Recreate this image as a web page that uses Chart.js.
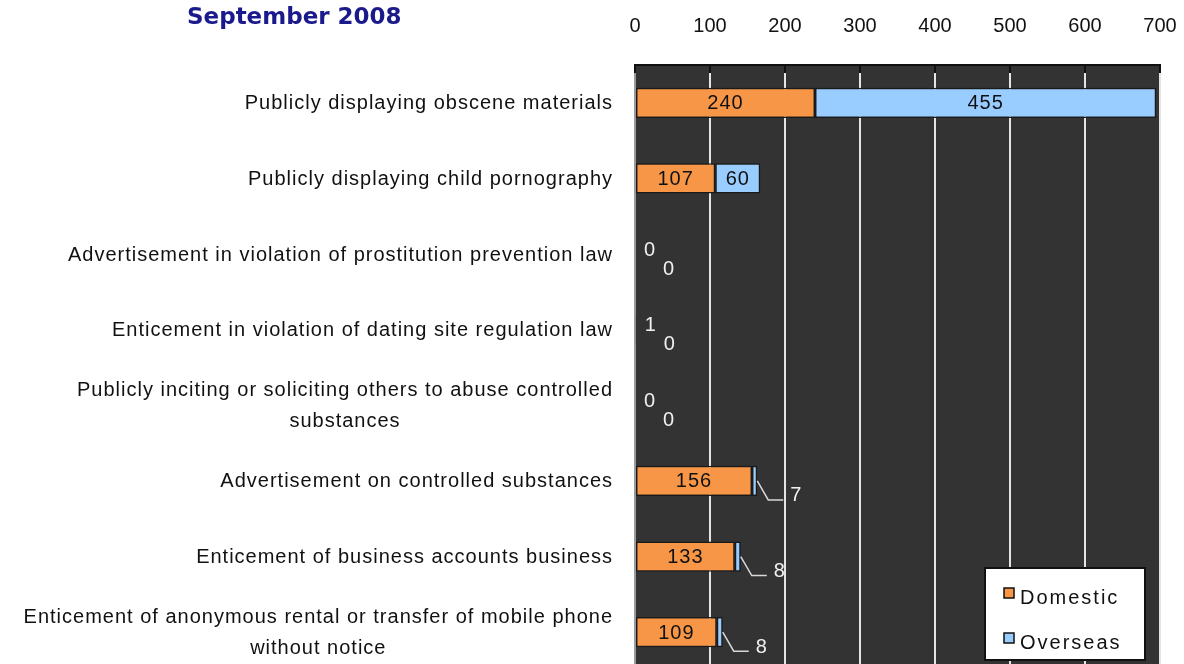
<!DOCTYPE html>
<html>
<head>
<meta charset="utf-8">
<script src="https://cdn.jsdelivr.net/npm/chart.js@4.4.0/dist/chart.umd.min.js"></script>
<style>
  html, body { margin: 0; padding: 0; background: #fff; overflow: hidden; }
  #wrap { position: relative; width: 1184px; height: 672px; }
  #title {
    position: absolute; left: 187px; top: 3px;
    font: bold 23px "DejaVu Sans", sans-serif; line-height: 26px;
    color: #1a1a8c;
  }
</style>
</head>
<body>
<div id="wrap">
  <div id="title">September 2008</div>
  <canvas id="myChart" width="1184" height="672"></canvas>
</div>
<script>
// categories, top to bottom
const categories = [
  "Publicly displaying obscene materials",
  "Publicly displaying child pornography",
  "Advertisement in violation of prostitution prevention law",
  "Enticement in violation of dating site regulation law",
  ["Publicly inciting or soliciting others to abuse controlled", "substances"],
  "Advertisement on controlled substances",
  "Enticement of business accounts business",
  ["Enticement of anonymous rental or transfer of mobile phone", "without notice"]
];
const domestic = [240, 107, 0, 1, 0, 156, 133, 109];
const overseas = [455, 60, 0, 0, 0, 7, 8, 8];
const xTicks = [0, 100, 200, 300, 400, 500, 600, 700];

const FONT = '"Liberation Sans", Arial, sans-serif';

// dark plot background
const plotBg = {
  id: 'plotBg',
  beforeDraw(chart) {
    const a = chart.chartArea;
    const ctx = chart.ctx;
    ctx.save();
    ctx.fillStyle = '#333333';
    ctx.fillRect(a.left, a.top, a.right - a.left, a.bottom - a.top);
    ctx.restore();
  }
};

// short dark tick marks hanging from the top border
const topTicks = {
  id: 'topTicks',
  beforeDatasetsDraw(chart) {
    const a = chart.chartArea;
    const x = chart.scales.x;
    const ctx = chart.ctx;
    ctx.save();
    ctx.strokeStyle = '#111';
    ctx.lineWidth = 2;
    x.ticks.forEach((t, i) => {
      const px = x.getPixelForTick(i);
      ctx.beginPath();
      ctx.moveTo(px, a.top);
      ctx.lineTo(px, a.top + 8);
      ctx.stroke();
    });
    ctx.restore();
  }
};

// category labels on the left (multi-line ones centred on each other)
const catLabels = {
  id: 'catLabels',
  afterDraw(chart) {
    const y = chart.scales.y;
    const ctx = chart.ctx;
    const right = chart.chartArea.left - 22;
    ctx.save();
    ctx.font = '20px ' + FONT;
    ctx.letterSpacing = '1px';
    ctx.fillStyle = '#111';
    ctx.textBaseline = 'middle';
    chart.data.labels.forEach((lab, i) => {
      const lines = [].concat(lab);
      const yc = y.getPixelForValue(i);
      const widest = Math.max(...lines.map(l => ctx.measureText(l).width));
      lines.forEach((l, k) => {
        const ly = yc + (k - (lines.length - 1) / 2) * 31 + 1;
        if (lines.length > 1) {
          ctx.textAlign = 'center';
          ctx.fillText(l, right - widest / 2, ly);
        } else {
          ctx.textAlign = 'right';
          ctx.fillText(l, right, ly);
        }
      });
    });
    ctx.restore();
  }
};

// value labels, inside wide bars, outside (with leader) for thin ones
const barLabels = {
  id: 'barLabels',
  afterDatasetsDraw(chart) {
    const ctx = chart.ctx;
    ctx.save();
    ctx.font = '20px ' + FONT;
    ctx.letterSpacing = '1px';
    ctx.textBaseline = 'middle';
    chart.data.datasets.forEach((ds, i) => {
      const meta = chart.getDatasetMeta(i);
      meta.data.forEach((bar, j) => {
        const v = ds.data[j];
        const w = Math.abs(bar.x - bar.base);
        if (w > 28) {
          ctx.fillStyle = '#111';
          ctx.textAlign = 'center';
          ctx.fillText(v, (bar.x + bar.base) / 2, bar.y + 1);
        } else if (i === 0) {
          ctx.fillStyle = '#f0f0f0';
          ctx.textAlign = 'left';
          ctx.fillText(v, bar.x + 9, bar.y - 4);
        } else if (v === 0) {
          ctx.fillStyle = '#f0f0f0';
          ctx.textAlign = 'left';
          ctx.fillText(v, bar.x + 28, bar.y + 15);
        } else {
          ctx.strokeStyle = '#d8d8d8';
          ctx.lineWidth = 1.5;
          ctx.beginPath();
          ctx.moveTo(bar.x, bar.y);
          ctx.lineTo(bar.x + 11, bar.y + 19);
          ctx.lineTo(bar.x + 26, bar.y + 19);
          ctx.stroke();
          ctx.fillStyle = '#f0f0f0';
          ctx.textAlign = 'left';
          ctx.fillText(v, bar.x + 33, bar.y + 15);
        }
      });
    });
    ctx.restore();
  }
};

// boxed legend inside the plot, bottom right
const boxLegend = {
  id: 'boxLegend',
  afterDraw(chart) {
    const a = chart.chartArea;
    const ctx = chart.ctx;
    const w = 160, h = 92;
    const x0 = a.right - 15 - w, y0 = a.bottom - 10 - h;
    ctx.save();
    ctx.fillStyle = '#fff';
    ctx.fillRect(x0, y0, w, h);
    ctx.strokeStyle = '#111';
    ctx.lineWidth = 2;
    ctx.strokeRect(x0, y0, w, h);
    ctx.font = '20px ' + FONT;
    ctx.textBaseline = 'middle';
    ctx.textAlign = 'left';
    ctx.letterSpacing = '2px';
    chart.data.datasets.forEach((ds, i) => {
      const cy = y0 + 25 + i * 45;
      ctx.fillStyle = ds.backgroundColor;
      ctx.fillRect(x0 + 19, cy - 5, 10, 10);
      ctx.lineWidth = 1.5;
      ctx.strokeRect(x0 + 19, cy - 5, 10, 10);
      ctx.fillStyle = '#111';
      ctx.fillText(ds.label, x0 + 35, cy + 5);
    });
    ctx.restore();
  }
};

const ctx = document.getElementById('myChart').getContext('2d');
new Chart(ctx, {
  type: 'bar',
  data: {
    labels: categories,
    datasets: [{
      label: 'Domestic',
      data: domestic,
      backgroundColor: '#f79646',
      borderColor: '#1a1a1a',
      borderWidth: 1.5,
      borderSkipped: false,
      barPercentage: 0.4,
      categoryPercentage: 1
    }, {
      label: 'Overseas',
      data: overseas,
      backgroundColor: '#99ccff',
      borderColor: '#1a1a1a',
      borderWidth: 1.5,
      borderSkipped: false,
      barPercentage: 0.4,
      categoryPercentage: 1
    }]
  },
  options: {
    indexAxis: 'y',
    responsive: false,
    animation: false,
    layout: { padding: { left: 635, right: 24, top: 0, bottom: 2 } },
    plugins: {
      legend: { display: false },
      tooltip: { enabled: false }
    },
    scales: {
      x: {
        position: 'top',
        stacked: true,
        min: 0,
        max: 700,
        afterFit(scale) {
          scale.height = 65;
          scale.paddingLeft = 0;
          scale.paddingRight = 0;
        },
        afterBuildTicks(scale) { scale.ticks = xTicks.map(v => ({ value: v })); },
        ticks: {
          padding: 27,
          color: '#111',
          font: { family: FONT, size: 20 }
        },
        grid: {
          drawTicks: false,
          lineWidth: 2,
          color: c => c.index === 0 ? '#9a9a9a' : '#e4e4e4'
        },
        border: { display: true, color: '#111', width: 2 }
      },
      y: {
        stacked: true,
        display: false
      }
    }
  },
  plugins: [plotBg, topTicks, catLabels, barLabels, boxLegend]
});
</script>
</body>
</html>
